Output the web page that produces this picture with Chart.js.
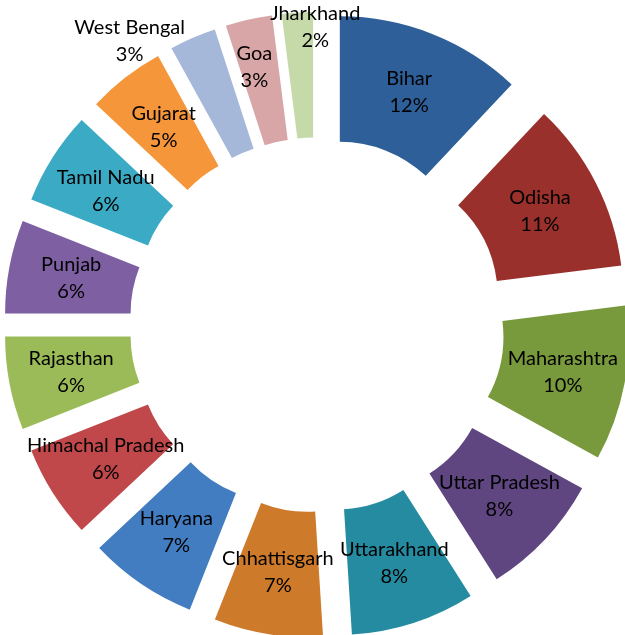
<!DOCTYPE html>
<html>
<head>
<meta charset="utf-8">
<script src="https://cdn.jsdelivr.net/npm/chart.js@4/dist/chart.umd.min.js"></script>
<style>
  html, body { margin: 0; padding: 0; background: #fff; }
  canvas { display: block; }
</style>
</head>
<body>
<canvas id="myChart" width="625" height="635"></canvas>
<script>
// state shares, in percent, clockwise from the top
const states = ['Bihar', 'Odisha', 'Maharashtra', 'Uttar Pradesh', 'Uttarakhand',
  'Chhattisgarh', 'Haryana', 'Himachal Pradesh', 'Rajasthan', 'Punjab',
  'Tamil Nadu', 'Gujarat', 'West Bengal', 'Goa', 'Jharkhand'];
const shares = [12, 11, 10, 8, 8, 7, 7, 6, 6, 6, 6, 5, 3, 3, 2];

const sliceColors = ['#2E5F98', '#9A302C', '#789A3D', '#5F4680', '#248BA1',
  '#CE7A2B', '#427DC1', '#C0484A', '#9BBB59', '#7E60A2',
  '#3BABC5', '#F5963A', '#A6B8DA', '#D8A6A6', '#C6D9A9'];

// labels that sit away from their slice centre
const labelNudge = {
  'West Bengal': [-88, -54],
  'Goa': [-8, -14],
  'Jharkhand': [14, -48]
};

const EXPLODE = 62;

// exploded slices: move the whole ring piece out along its middle angle
class ExplodedArc extends Chart.ArcElement {
  static id = 'explodedArc';
  draw(ctx) {
    const {x, y, startAngle, endAngle, innerRadius, outerRadius, options} = this;
    const mid = (startAngle + endAngle) / 2;
    const shift = options.offset || 0;
    ctx.save();
    ctx.translate(Math.cos(mid) * shift, Math.sin(mid) * shift);
    ctx.beginPath();
    ctx.arc(x, y, outerRadius, startAngle, endAngle);
    ctx.arc(x, y, innerRadius, endAngle, startAngle, true);
    ctx.closePath();
    ctx.fillStyle = options.backgroundColor;
    ctx.fill();
    ctx.restore();
  }
}

class ExplodedDoughnut extends Chart.DoughnutController {
  static id = 'explodedDoughnut';
  static defaults = { dataElementType: 'explodedArc' };
}

Chart.register(ExplodedArc, ExplodedDoughnut);

// name and percent in the middle of each (moved) slice
const sliceLabels = {
  id: 'sliceLabels',
  afterDatasetsDraw(chart) {
    const c = chart.ctx;
    const arcs = chart.getDatasetMeta(0).data;
    c.save();
    c.font = '20px Lato';
    c.fillStyle = '#000';
    c.textAlign = 'center';
    c.textBaseline = 'middle';
    arcs.forEach(function(arc, i) {
      const mid = (arc.startAngle + arc.endAngle) / 2;
      const dist = (arc.innerRadius + arc.outerRadius) / 2 + (arc.options.offset || 0);
      const nudge = labelNudge[states[i]] || [0, 0];
      const lx = arc.x + Math.cos(mid) * dist + nudge[0];
      const ly = arc.y + Math.sin(mid) * dist + nudge[1];
      c.fillText(states[i], lx, ly - 13.5);
      c.fillText(shares[i] + '%', lx, ly + 13.5);
    });
    c.restore();
  }
};

const ctx = document.getElementById('myChart');

new Chart(ctx, {
  type: 'explodedDoughnut',
  data: {
    labels: states,
    datasets: [{
      data: shares,
      backgroundColor: sliceColors,
      borderWidth: 0,
      offset: EXPLODE,
      hoverOffset: EXPLODE
    }]
  },
  options: {
    responsive: false,
    animation: false,
    radius: 251,
    cutout: '50%',
    layout: { padding: { left: 9, top: 15, right: 0, bottom: 0 } },
    plugins: {
      legend: { display: false },
      tooltip: { enabled: false }
    }
  },
  plugins: [sliceLabels]
});
</script>
</body>
</html>
